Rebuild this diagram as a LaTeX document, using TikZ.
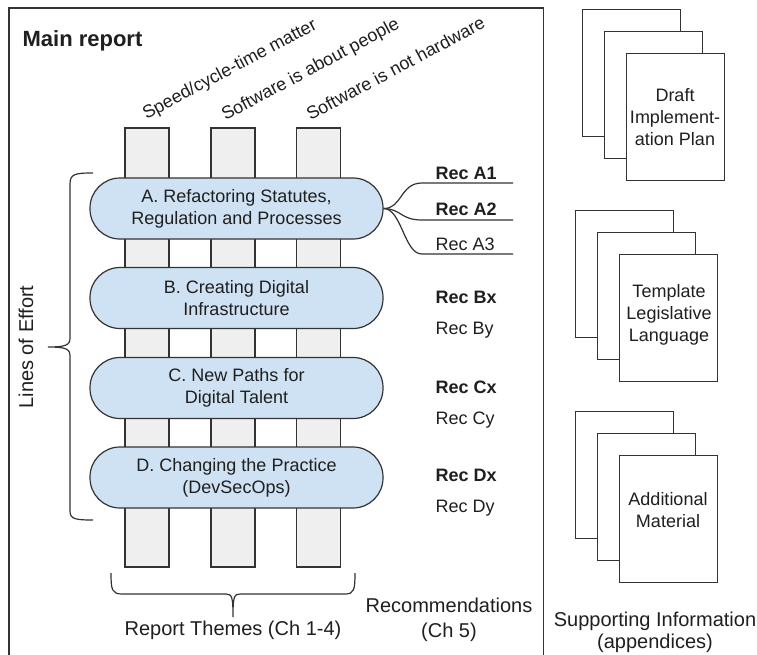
\documentclass[tikz,border=0pt]{standalone}
\usepackage{fontspec}
\setmainfont{Liberation Sans}
\definecolor{ln}{HTML}{333333}
\definecolor{lblue}{HTML}{CFE2F3}
\definecolor{lgray}{HTML}{EFEFEF}
\definecolor{txt}{HTML}{1F1F1F}
\begin{document}
\begin{tikzpicture}[x=1pt,y=-1pt, line width=1.2pt,
 every node/.style={text=txt},
 bar/.style={draw=ln, fill=lgray, minimum width=44pt, minimum height=439pt, inner sep=0pt},
 loe/.style={draw=ln, fill=lblue, rounded corners=30pt, minimum width=293pt, minimum height=61pt, inner sep=0pt, align=center, font=\fontsize{18}{22}\selectfont},
 rec/.style={anchor=west, inner sep=0pt, font=\fontsize{18}{22}\selectfont},
 recb/.style={anchor=west, inner sep=0pt, font=\fontsize{18}{22}\selectfont\bfseries},
 theme/.style={anchor=base west, rotate=28, inner sep=0pt, font=\fontsize{18}{22}\selectfont},
 page/.style={draw=ln, fill=white, minimum width=98pt, minimum height=127pt, anchor=north west, inner sep=0pt},
 doctext/.style={align=center, font=\fontsize{18}{22}\selectfont},
 caption/.style={align=center, font=\fontsize{20}{25}\selectfont},
 brace/.style={draw=ln, line width=1.2pt}]
\useasboundingbox (0,0) rectangle (757,655);
\fill[white] (0,0) rectangle (757,655);

% main report frame (open at the bottom)
\draw[ln] (9,662) -- (9,8) -- (543.5,8) -- (543.5,662);
\node[anchor=base west, inner sep=0pt, font=\fontsize{22}{26}\selectfont\bfseries] (title) at (22,47) {Main report};

% theme bars
\node[bar] (bar1) at (147,347.5) {};
\node[bar] (bar2) at (233,347.5) {};
\node[bar] (bar3) at (318.5,347.5) {};

% theme labels
\node[theme] (th1) at (146,120) {Speed/cycle-time matter};
\node[theme] (th2) at (225,121) {Software is about people};
\node[theme] (th3) at (310,121) {Software is not hardware};

% lines of effort
\node[loe] (A) at (236.5,208.5) {A. Refactoring Statutes,\\Regulation and Processes};
\node[loe] (B) at (236.5,298) {B. Creating Digital\\Infrastructure};
\node[loe] (C) at (236.5,388) {C. New Paths for\\Digital Talent};
\node[loe] (D) at (236.5,477.5) {D. Changing the Practice\\(DevSecOps)};

% recommendations A (fork)
\coordinate (a1) at (422,183);
\coordinate (a2) at (422,220);
\coordinate (a3) at (422,254);
\draw[ln] (A.east) .. controls (402,209) and (400,183) .. (a1) -- ++(91,0);
\draw[ln] (A.east) .. controls (402,209) and (400,220) .. (a2) -- ++(91,0);
\draw[ln] (A.east) .. controls (402,209) and (404,254) .. (a3) -- ++(91,0);
\node[recb] (ra1) at (435,173.5) {Rec A1};
\node[recb] (ra2) at (435,209.5) {Rec A2};
\node[rec]  (ra3) at (435,244.5) {Rec A3};

\node[recb] (rbx) at (435,297) {Rec Bx};
\node[rec]  (rby) at (435,330) {Rec By};
\node[recb] (rcx) at (435,387) {Rec Cx};
\node[rec]  (rcy) at (435,420) {Rec Cy};
\node[recb] (rdx) at (435,475) {Rec Dx};
\node[rec]  (rdy) at (435,508) {Rec Dy};

% left brace: lines of effort
\draw[brace] (93,173) .. controls (75,173) and (70,174) .. (70,184) -- (70,338)
  .. controls (70,345) and (66,347) .. (48,347)
  .. controls (66,347) and (70,349) .. (70,356) -- (70,511)
  .. controls (70,519) and (75,520) .. (93,520);
\node[caption, rotate=90, inner sep=0pt] (loetext) at (26,347) {Lines of Effort};

% bottom brace: report themes
\draw[brace] (111,573) .. controls (111,590) and (112,594) .. (122,594) -- (226,594)
  .. controls (232,594) and (233,597) .. (233,617)
  .. controls (233,597) and (234,594) .. (240,594) -- (345,594)
  .. controls (354,594) and (355,590) .. (355,573);
\node[caption] (themes) at (233,630) {Report Themes (Ch 1-4)};
\node[caption] (recs) at (449,619.5) {Recommendations\\(Ch 5)};

% supporting documents
\node[page] (p1a) at (582,9) {};
\node[page] (p1b) at (604,31) {};
\node[page] (p1c) at (626,53) {};
\node[doctext] (t1) at (675,117) {Draft\\Implement-\\ation Plan};

\node[page] (p2a) at (575,210) {};
\node[page] (p2b) at (597,232) {};
\node[page] (p2c) at (619,254) {};
\node[doctext] (t2) at (669,315) {Template\\Legislative\\Language};

\node[page] (p3a) at (575,411) {};
\node[page] (p3b) at (597,433) {};
\node[page] (p3c) at (619,455) {};
\node[doctext] (t3) at (668,510) {Additional\\Material};

\node[caption, font=\fontsize{20}{21.5}\selectfont] (supp) at (655,632.5) {Supporting Information\\(appendices)};
\end{tikzpicture}
\end{document}
